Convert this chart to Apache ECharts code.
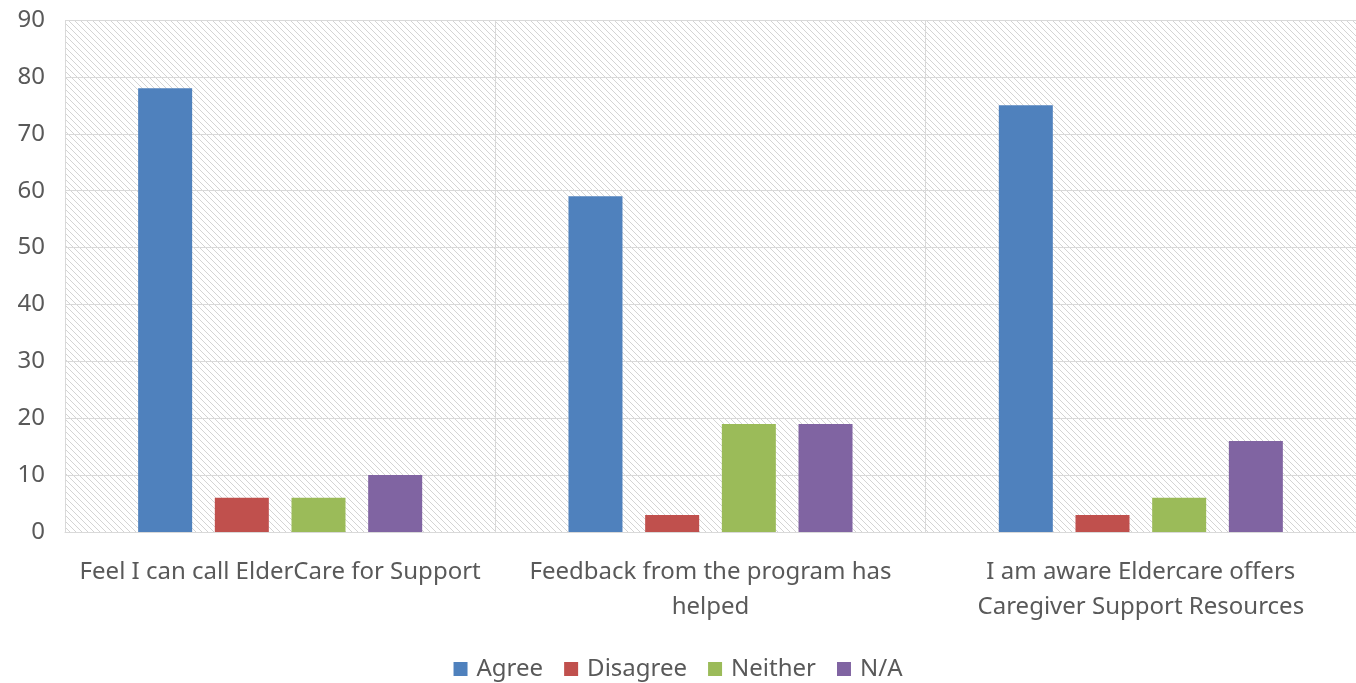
<!DOCTYPE html>
<html><head><meta charset="utf-8">
<script src="https://cdn.jsdelivr.net/npm/echarts@6/dist/echarts.min.js"></script>
<style>html,body{margin:0;padding:0;background:#fff}#c{width:1356px;height:683px}</style>
</head><body><div id="c"></div>
<script>
var categories = ['Feel I can call ElderCare for Support', 'Feedback from the program has\nhelped', 'I am aware Eldercare offers\nCaregiver Support Resources'];
var agree = [78, 59, 75];
var disagree = [6, 3, 3];
var neither = [6, 19, 6];
var na = [10, 19, 16];
var yTicks = {min: 0, max: 90, interval: 10};

var pc = document.createElement('canvas');
pc.width = 6; pc.height = 6;
var g = pc.getContext('2d');
g.fillStyle = '#ffffff'; g.fillRect(0, 0, 6, 6);
g.strokeStyle = '#d4d4d4'; g.lineWidth = 1;
g.beginPath();
g.moveTo(-1, -1); g.lineTo(7, 7);
g.moveTo(-4, 2); g.lineTo(4, 10);
g.moveTo(2, -4); g.lineTo(10, 4);
g.stroke();

var font = 'Noto Sans';
var chart = echarts.init(document.getElementById('c'));
function bar(name, data, color) {
  return {name: name, type: 'bar', data: data, barWidth: 54, barGap: '42%',
    itemStyle: {color: color}};
}
chart.setOption({
  animation: false,
  grid: {left: 65, right: -4, top: 20, bottom: 151, show: true, borderWidth: 0,
    backgroundColor: {image: pc, repeat: 'repeat'}},
  legend: {bottom: -3, left: 'center', itemWidth: 14, itemHeight: 14, itemGap: 21,
    icon: 'rect', textStyle: {fontFamily: font, fontSize: 24, color: '#595959', padding: [0, 0, 0, 4]}},
  xAxis: {type: 'category', data: categories,
    axisLine: {lineStyle: {color: '#d9d9d9'}}, axisTick: {show: false},
    splitLine: {show: true, lineStyle: {color: '#d9d9d9'}},
    axisLabel: {fontFamily: font, fontSize: 24, color: '#595959', margin: 23, lineHeight: 35, interval: 0}},
  yAxis: {type: 'value', min: yTicks.min, max: yTicks.max, interval: yTicks.interval,
    axisLine: {show: false}, axisTick: {show: false},
    splitLine: {lineStyle: {color: '#d9d9d9'}},
    axisLabel: {fontFamily: font, fontSize: 24, color: '#595959', margin: 20}},
  series: [bar('Agree', agree, '#4f81bd'), bar('Disagree', disagree, '#c0504d'),
    bar('Neither', neither, '#9bbb59'), bar('N/A', na, '#8064a2')]
});
</script></body></html>
